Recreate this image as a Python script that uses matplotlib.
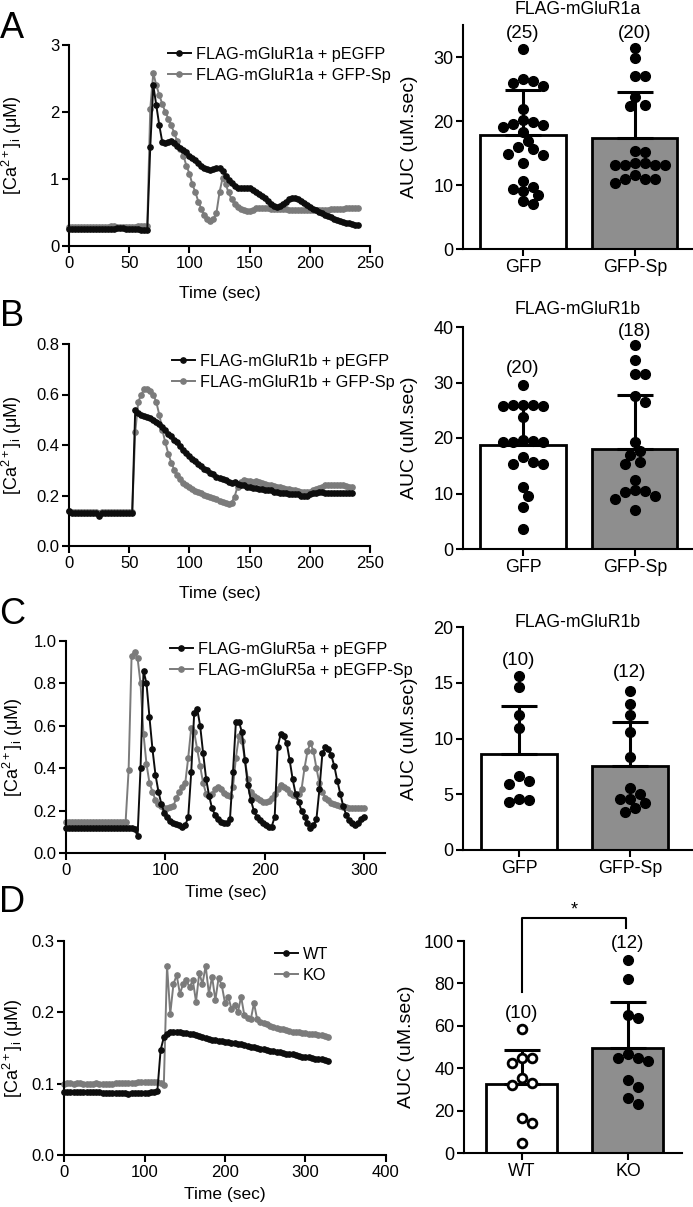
import numpy as np
import matplotlib
matplotlib.use('Agg')
import matplotlib.pyplot as plt

plt.rcParams['font.family'] = ['Liberation Sans', 'DejaVu Sans']
plt.rcParams['mathtext.fontset'] = 'custom'
plt.rcParams['mathtext.rm'] = 'Liberation Sans'

W, H = 693, 1207
BLACK = '#0d0d0d'
GRAY = '#7b7b7b'
BARGRAY = '#8e8e8e'

# ---------------- calcium traces (values in uM) ----------------
# panel A, sampled every 2.5 s
a_step = 2.5
a_egfp = [0.25, 0.25, 0.25, 0.25, 0.25, 0.25, 0.25, 0.25, 0.25, 0.25, 0.25, 0.25, 0.25, 0.25,
          0.26, 0.26, 0.27, 0.27, 0.27, 0.26, 0.26, 0.25, 0.25, 0.25, 0.24, 0.24, 0.24,
          1.48, 2.40, 2.10, 1.80, 1.55, 1.53, 1.55, 1.57, 1.53, 1.50,
          1.47, 1.43, 1.40, 1.35, 1.32, 1.28, 1.24, 1.20, 1.16, 1.15,
          1.14, 1.15, 1.16, 1.16, 1.12, 1.05, 0.99, 0.94, 0.90, 0.87,
          0.86, 0.86, 0.86, 0.86, 0.84, 0.81, 0.78, 0.75, 0.71, 0.67,
          0.63, 0.60, 0.58, 0.59, 0.62, 0.66, 0.70, 0.71, 0.71, 0.70,
          0.67, 0.64, 0.61, 0.58, 0.55, 0.53, 0.51, 0.49, 0.47, 0.45,
          0.43, 0.41, 0.39, 0.37, 0.36, 0.35, 0.34, 0.33, 0.32, 0.32]
a_sp = [0.28, 0.28, 0.28, 0.28, 0.28, 0.28, 0.28, 0.28, 0.29, 0.29, 0.29, 0.29, 0.29, 0.29,
        0.30, 0.30, 0.29, 0.29, 0.29, 0.29, 0.29, 0.29, 0.29, 0.30, 0.30, 0.30, 0.30,
        2.05, 2.58, 2.40, 2.25, 2.12, 2.00, 1.90, 1.80, 1.68, 1.56,
        1.45, 1.35, 1.20, 1.08, 0.92, 0.80, 0.66, 0.55, 0.46, 0.40,
        0.38, 0.40, 0.50, 0.80, 1.01, 0.93, 0.80, 0.70, 0.63, 0.58,
        0.55, 0.53, 0.52, 0.52, 0.54, 0.56, 0.57, 0.57, 0.56, 0.56,
        0.55, 0.55, 0.55, 0.55, 0.55, 0.55, 0.54, 0.54, 0.54, 0.54,
        0.54, 0.54, 0.54, 0.54, 0.54, 0.54, 0.54, 0.54, 0.54, 0.54,
        0.55, 0.55, 0.55, 0.55, 0.55, 0.56, 0.56, 0.56, 0.57, 0.56]

# panel B, sampled every 2.5 s
b_step = 2.5
b_egfp = [0.14, 0.13, 0.13, 0.13, 0.13, 0.13, 0.13, 0.13, 0.13, 0.13, 0.12,
          0.13, 0.13, 0.13, 0.13, 0.13, 0.13, 0.13, 0.13, 0.13, 0.13, 0.13,
          0.54, 0.525, 0.52, 0.515, 0.51, 0.505, 0.50, 0.49, 0.485, 0.47,
          0.46, 0.445, 0.435, 0.42, 0.41, 0.395, 0.38, 0.37, 0.355, 0.345,
          0.335, 0.325, 0.315, 0.305, 0.30, 0.29, 0.285, 0.275, 0.27, 0.265,
          0.26, 0.255, 0.25, 0.255, 0.245, 0.24, 0.24, 0.235, 0.235, 0.23,
          0.23, 0.225, 0.225, 0.22, 0.22, 0.22, 0.215, 0.215, 0.21, 0.21,
          0.21, 0.205, 0.205, 0.205, 0.205, 0.20, 0.20, 0.20, 0.205, 0.21,
          0.21, 0.215, 0.215, 0.21, 0.21, 0.21, 0.21, 0.21, 0.21, 0.21,
          0.21, 0.21, 0.21]
b_sp = [0.14, 0.135, 0.135, 0.135, 0.135, 0.135, 0.135, 0.135, 0.135, 0.135, 0.13,
        0.135, 0.135, 0.135, 0.135, 0.135, 0.135, 0.135, 0.135, 0.135, 0.135, 0.135,
        0.45, 0.57, 0.60, 0.62, 0.62, 0.615, 0.60, 0.57, 0.52, 0.46,
        0.41, 0.365, 0.33, 0.30, 0.28, 0.265, 0.25, 0.24, 0.232, 0.225,
        0.218, 0.212, 0.208, 0.203, 0.198, 0.194, 0.19, 0.185, 0.18, 0.175,
        0.17, 0.167, 0.172, 0.195, 0.235, 0.255, 0.26, 0.258, 0.258, 0.255,
        0.258, 0.252, 0.25, 0.245, 0.242, 0.24, 0.237, 0.235, 0.232, 0.23,
        0.227, 0.225, 0.222, 0.22, 0.218, 0.215, 0.214, 0.213, 0.215, 0.22,
        0.225, 0.23, 0.235, 0.24, 0.242, 0.242, 0.242, 0.242, 0.242, 0.24,
        0.238, 0.235, 0.232]

# panel C, sampled every 3 s
c_step = 3
c_egfp = [0.12, 0.117, 0.117, 0.117, 0.117, 0.117, 0.117, 0.117, 0.117, 0.117, 0.117, 0.117,
          0.117, 0.117, 0.117, 0.117, 0.117, 0.117, 0.117, 0.117, 0.117, 0.117, 0.117, 0.115,
          0.08, 0.40, 0.86, 0.80, 0.64, 0.49, 0.37, 0.29, 0.23, 0.19,
          0.17, 0.15, 0.14, 0.135, 0.13, 0.125, 0.13, 0.17, 0.38, 0.66,
          0.68, 0.60, 0.47, 0.35, 0.27, 0.21, 0.18, 0.16, 0.145, 0.14,
          0.14, 0.16, 0.38, 0.62, 0.62, 0.57, 0.44, 0.32, 0.25, 0.20,
          0.17, 0.155, 0.14, 0.13, 0.125, 0.125, 0.17, 0.50, 0.56, 0.55,
          0.52, 0.44, 0.35, 0.28, 0.24, 0.20, 0.17, 0.14, 0.12, 0.13,
          0.16, 0.30, 0.47, 0.50, 0.49, 0.46, 0.41, 0.34, 0.28, 0.22,
          0.18, 0.155, 0.14, 0.13, 0.14, 0.16, 0.17]
c_sp = [0.148, 0.148, 0.148, 0.148, 0.148, 0.148, 0.148, 0.148, 0.148, 0.148, 0.148,
        0.148, 0.148, 0.148, 0.148, 0.148, 0.148, 0.148, 0.148, 0.148, 0.148,
        0.39, 0.93, 0.95, 0.92, 0.80, 0.56, 0.42, 0.33, 0.29, 0.25,
        0.23, 0.22, 0.21, 0.21, 0.215, 0.22, 0.26, 0.29, 0.31, 0.33,
        0.45, 0.59, 0.57, 0.49, 0.41, 0.33, 0.28, 0.27, 0.28, 0.30,
        0.31, 0.30, 0.285, 0.275, 0.27, 0.31, 0.45, 0.55, 0.53, 0.44,
        0.35, 0.29, 0.27, 0.26, 0.25, 0.24, 0.24, 0.245, 0.26, 0.28,
        0.30, 0.32, 0.31, 0.30, 0.285, 0.275, 0.27, 0.28, 0.30, 0.40,
        0.48, 0.52, 0.48, 0.40, 0.33, 0.29, 0.26, 0.25, 0.235, 0.23,
        0.225, 0.22, 0.215, 0.215, 0.21, 0.21, 0.21, 0.21, 0.21, 0.21]

# panel D, sampled every 4 s
d_step = 4
d_wt = [0.089, 0.089, 0.089, 0.089, 0.089, 0.089, 0.088, 0.088, 0.088, 0.088,
        0.088, 0.088, 0.087, 0.087, 0.087, 0.087, 0.087, 0.087, 0.087, 0.087,
        0.086, 0.087, 0.087, 0.087, 0.087, 0.087, 0.087, 0.088, 0.088, 0.090,
        0.147, 0.165, 0.170, 0.173, 0.173, 0.172, 0.172, 0.171, 0.171, 0.170,
        0.169, 0.168, 0.167, 0.166, 0.164, 0.162, 0.161, 0.161, 0.160, 0.160,
        0.159, 0.158, 0.157, 0.157, 0.156, 0.155, 0.154, 0.153, 0.152, 0.151,
        0.150, 0.149, 0.148, 0.147, 0.146, 0.146, 0.145, 0.144, 0.143, 0.142,
        0.141, 0.141, 0.140, 0.139, 0.138, 0.138, 0.137, 0.136, 0.135, 0.135,
        0.134, 0.133, 0.132]
d_ko = [0.100, 0.101, 0.101, 0.100, 0.101, 0.101, 0.100, 0.100, 0.100, 0.100,
        0.101, 0.100, 0.100, 0.100, 0.100, 0.100, 0.101, 0.101, 0.101, 0.101,
        0.101, 0.101, 0.101, 0.102, 0.102, 0.102, 0.102, 0.102, 0.102, 0.102,
        0.101, 0.098,
        0.265, 0.198, 0.240, 0.252, 0.226, 0.240, 0.245, 0.235, 0.245, 0.215,
        0.255, 0.240, 0.265, 0.226, 0.250, 0.217, 0.248, 0.238, 0.213, 0.222,
        0.205, 0.210, 0.200, 0.222, 0.196, 0.192, 0.190, 0.213, 0.190, 0.187,
        0.185, 0.183, 0.181, 0.180, 0.178, 0.177, 0.176, 0.175, 0.174, 0.173,
        0.173, 0.172, 0.171, 0.171, 0.170, 0.170, 0.169, 0.168, 0.168, 0.167,
        0.166]

# ---------------- AUC values (uM.sec) ----------------
a_auc_gfp = [31.3, 26.5, 26.3, 26.0, 25.5, 21.9, 20.2, 19.8, 19.6, 19.3, 19.0, 18.3, 16.9,
             15.9, 15.6, 14.8, 14.7, 13.5, 10.6, 9.7, 9.4, 9.1, 8.4, 7.5, 7.1]
a_auc_sp = [31.4, 29.8, 27.1, 27.0, 23.7, 22.5, 22.3, 15.2, 15.3, 13.5, 13.1, 13.2, 13.2,
            13.1, 13.5, 11.5, 10.9, 10.3, 10.9, 11.0]
a_mean = [17.8, 17.4]
a_sd = [7.1, 7.2]

b_auc_gfp = [29.5, 25.9, 25.8, 25.7, 25.9, 25.9, 23.7, 19.6, 19.3, 19.3, 19.3, 19.5, 16.6,
             15.4, 15.4, 15.6, 11.1, 9.6, 7.5, 3.6]
b_auc_sp = [36.7, 34.1, 31.5, 31.6, 27.5, 26.5, 19.3, 17.7, 16.9, 15.6, 15.3, 12.5, 10.7,
            10.2, 9.0, 9.5, 10.4, 7.1]
b_mean = [18.8, 18.1]
b_sd = [7.0, 9.6]

c_auc_gfp = [15.6, 14.6, 12.1, 10.9, 6.2, 5.9, 6.6, 4.6, 4.3, 4.5]
c_auc_sp = [14.3, 13.1, 12.1, 10.6, 8.3, 5.6, 4.6, 4.2, 4.6, 5.0, 3.8, 3.4]
c_mean = [8.6, 7.5]
c_sd = [4.3, 4.0]

d_auc_wt = [58.4, 44.6, 42.5, 44.9, 35.4, 32.0, 32.8, 16.7, 14.2, 4.9]
d_auc_ko = [91.0, 82.0, 65.0, 63.8, 45.0, 43.3, 44.6, 46.5, 34.6, 31.2, 26.1, 23.3]
d_mean = [32.4, 49.6]
d_sd = [16.4, 21.7]

gfp_names = ['GFP', 'GFP-Sp']
mouse_names = ['WT', 'KO']

fig = plt.figure(figsize=(W / 100, H / 100), dpi=100)


def px_axes(x0, y0, x1, y1):
    return fig.add_axes([x0 / W, 1 - y1 / H, (x1 - x0) / W, (y1 - y0) / H])


def style(ax, size):
    for s in ['top', 'right']:
        ax.spines[s].set_visible(False)
    for s in ['left', 'bottom']:
        ax.spines[s].set_linewidth(1.5)
    ax.tick_params(width=1.5, length=5, labelsize=size, pad=2)


def trace_panel(ax, step, y1, y2, labels, xlim, xticks, yticks, fmt, leg_xy, xlab_y, ylab_x):
    t1 = step * np.arange(len(y1))
    t2 = step * np.arange(len(y2))
    l2, = ax.plot(t2, y2, '-o', color=GRAY, ms=3.8, lw=1.4, zorder=2, clip_on=False)
    l1, = ax.plot(t1, y1, '-o', color=BLACK, ms=3.8, lw=1.4, zorder=3, clip_on=False)
    ax.set_xlim(*xlim)
    ax.set_ylim(yticks[0], yticks[-1])
    ax.set_xticks(xticks)
    ax.set_yticks(yticks)
    ax.set_yticklabels([fmt.format(v) for v in yticks])
    style(ax, 12)
    ax.set_xlabel('Time (sec)', fontsize=12.5)
    ax.set_ylabel('[Ca$^{2+}$]$_\\mathregular{i}$ (μM)', fontsize=13)
    ax.xaxis.set_label_coords(0.5, xlab_y)
    ax.yaxis.set_label_coords(ylab_x, 0.5)
    ax.legend([l1, l2], labels, loc='upper left', bbox_to_anchor=leg_xy, frameon=False,
              fontsize=11.7, handlelength=1.4, handletextpad=0.3, labelspacing=0.35,
              borderpad=0, borderaxespad=0)


def swarm_x(ax, center, vals, d_px=10.0):
    bb = ax.get_window_extent()
    x0, x1 = ax.get_xlim()
    y0, y1 = ax.get_ylim()
    ppx = bb.width / (x1 - x0)
    ppy = bb.height / (y1 - y0)
    vals = np.asarray(vals, dtype=float)
    xs = np.zeros(len(vals))
    placed = []
    cands = [0.0]
    for k in range(1, 30):
        cands += [k * 0.5 * d_px, -k * 0.5 * d_px]
    for i in np.argsort(-vals):
        y = vals[i] * ppy
        for c in cands:
            if all((c - px) ** 2 + (y - py) ** 2 >= (0.95 * d_px) ** 2 for px, py in placed):
                placed.append((c, y))
                xs[i] = c
                break
    return center + xs / ppx


def bar_panel(ax, groups, means, sds, names, xlim, width, ylim, yticks,
              count_y, title=None, title_y=1.07, open_first=False, ylab_x=-0.197):
    ax.set_xlim(*xlim)
    ax.set_ylim(*ylim)
    xpos = np.arange(len(groups))
    ax.bar(xpos, means, width=width, color=['white', BARGRAY], edgecolor='black',
           linewidth=2.0, zorder=1)
    for x, m, s in zip(xpos, means, sds):
        ax.errorbar([x], [m], yerr=[[0], [s]], fmt='none', ecolor='black',
                    elinewidth=2.2, capsize=13, capthick=2.2, zorder=2)
    for x, vals, cy in zip(xpos, groups, count_y):
        xs = swarm_x(ax, x, vals)
        if open_first and x == 0:
            ax.plot(xs, vals, 'o', ms=6.3, mfc='white', mec='black', mew=2.0,
                    zorder=4, clip_on=False)
        else:
            ax.plot(xs, vals, 'o', ms=7.0, color='black', zorder=4, clip_on=False)
        ax.text(x, cy, '({})'.format(len(vals)), ha='center', va='center', fontsize=13.5)
    ax.set_xticks(xpos)
    ax.set_xticklabels(names)
    ax.set_yticks(yticks)
    style(ax, 13)
    ax.tick_params(axis='x', labelsize=12.8)
    ax.set_ylabel('AUC (uM.sec)', fontsize=14)
    ax.yaxis.set_label_coords(ylab_x, 0.5)
    if title:
        ax.text(0.5, title_y, title, transform=ax.transAxes, ha='center', va='center',
                fontsize=12.7)


# ---- A
ax = px_axes(69, 45, 370, 246)
trace_panel(ax, a_step, a_egfp, a_sp,
            ['FLAG-mGluR1a + pEGFP', 'FLAG-mGluR1a + GFP-Sp'],
            (0, 250), [0, 50, 100, 150, 200, 250], [0, 1, 2, 3], '{:d}',
            (0.329, 0.99), -0.2, -0.15)
ax = px_axes(463, 25, 692, 249)
bar_panel(ax, [a_auc_gfp, a_auc_sp], a_mean, a_sd, gfp_names, (-0.536, 1.51), 0.76,
          (0, 35), [0, 10, 20, 30], [33.7, 33.7], 'FLAG-mGluR1a', 1.067)

# ---- B
ax = px_axes(69, 344, 370, 546)
trace_panel(ax, b_step, b_egfp, b_sp,
            ['FLAG-mGluR1b + pEGFP', 'FLAG-mGluR1b + GFP-Sp'],
            (0, 250), [0, 50, 100, 150, 200, 250], [0.0, 0.2, 0.4, 0.6, 0.8], '{:.1f}',
            (0.342, 0.95), -0.2, -0.15)
ax = px_axes(463, 327, 692, 549)
bar_panel(ax, [b_auc_gfp, b_auc_sp], b_mean, b_sd, gfp_names, (-0.536, 1.51), 0.76,
          (0, 40), [0, 10, 20, 30, 40], [32.6, 39.1], 'FLAG-mGluR1b', 1.077)

# ---- C
ax = px_axes(66, 641, 385, 853)
trace_panel(ax, c_step, c_egfp, c_sp,
            ['FLAG-mGluR5a + pEGFP', 'FLAG-mGluR5a + pEGFP-Sp'],
            (0, 321), [0, 100, 200, 300], [0.0, 0.2, 0.4, 0.6, 0.8, 1.0], '{:.1f}',
            (0.326, 0.995), -0.15, -0.128)
ax = px_axes(463, 627, 692, 850)
bar_panel(ax, [c_auc_gfp, c_auc_sp], c_mean, c_sd, gfp_names, (-0.505, 1.56), 0.68,
          (0, 20), [0, 5, 10, 15, 20], [17.0, 15.9], 'FLAG-mGluR1b', 1.022)

# ---- D
ax = px_axes(64, 941, 386, 1155)
trace_panel(ax, d_step, d_wt, d_ko, ['WT', 'KO'],
            (0, 400), [0, 100, 200, 300, 400], [0.0, 0.1, 0.2, 0.3], '{:.1f}',
            (0.655, 0.972), -0.15, -0.121)
ax = px_axes(464, 941, 682, 1153)
bar_panel(ax, [d_auc_wt, d_auc_ko], d_mean, d_sd, mouse_names, (-0.547, 1.51), 0.67,
          (0, 100), [0, 20, 40, 60, 80, 100], [66, 99], open_first=True, ylab_x=-0.225)
ax.plot([0, 0, 0.98, 0.98], [76, 111, 111, 106], color='black', lw=1.5, clip_on=False)
ax.text(0.49, 110.5, '*', ha='center', va='bottom', fontsize=13)

# panel letters
for letter, (x, y) in zip('ABCD', [(12, 29), (12, 316), (12, 614), (12, 903)]):
    fig.text(x / W, 1 - y / H, letter, fontsize=26, ha='center', va='center')

fig.savefig('out.png', dpi=100)
